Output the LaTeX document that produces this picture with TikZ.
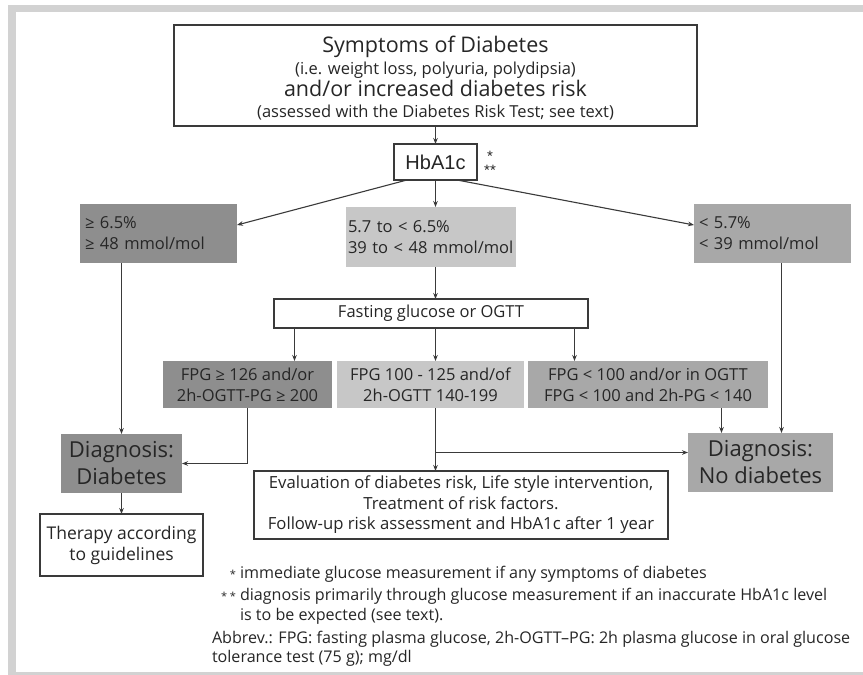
\documentclass[tikz,border=0pt]{standalone}
\usepackage{fontspec}
\setmainfont{Open Sans}
\newfontfamily\arialf{Liberation Sans}
\usetikzlibrary{arrows.meta,calc}
\definecolor{framegray}{HTML}{D2D2D2}
\definecolor{dk}{HTML}{8E8E8E}
\definecolor{md}{HTML}{A8A8A8}
\definecolor{lt}{HTML}{C7C7C7}
\definecolor{ink}{HTML}{262626}
\definecolor{edge}{HTML}{3A3A3A}
\begin{document}
\begin{tikzpicture}[x=1pt,y=-1pt,
  every node/.style={text=ink, inner sep=0pt, outer sep=0pt},
  plainbox/.style={draw=edge, line width=1.1pt, fill=white},
  shade/.style={fill=#1},
  conn/.style={draw=edge, line width=1.1pt, -{Stealth[length=6pt,width=4.6pt]}},
  big/.style={font=\fontsize{21.5}{24}\selectfont},
  mid/.style={font=\fontsize{16.5}{21}\selectfont},
  note/.style={font=\fontsize{16.1}{18}\selectfont, anchor=base west},
  starnote/.style={font=\fontsize{11}{12}\selectfont, anchor=base east},
]
\useasboundingbox (0,0) rectangle (863,675);
\fill[white] (0,0) rectangle (863,675);
\fill[framegray] (8,5) rectangle (863,675);
\fill[white] (16,12) rectangle (863,672);

% top box
\node[plainbox, minimum width=523, minimum height=101] (top) at (435.5,75.5) {};
\node[big, anchor=base] (top1) at (435.5,52) {Symptoms of Diabetes};
\node[mid, anchor=base] (top2) at (435.5,74.5) {(i.e. weight loss, polyuria, polydipsia)};
\node[big, anchor=base] (top3) at (435.5,96) {and/or increased diabetes risk};
\node[mid, anchor=base] (top4) at (435.5,117) {(assessed with the Diabetes Risk Test; see text)};

% HbA1c
\node[plainbox, minimum width=83, minimum height=36, font=\arialf\fontsize{20}{24}\selectfont] (hba) at (435.5,162) {HbA1c};
\node[anchor=base, font=\arialf\fontsize{15}{15}\selectfont] (st1) at (490,161.5) {*};
\node[anchor=base, font=\arialf\fontsize{15}{15}\selectfont] (st2) at (490,175.5) {**};

% HbA1c result boxes
\node[shade=dk, mid, text width=147, inner xsep=5, minimum height=59, align=left] (L1) at (158.5,233.5) {≥ 6.5\%\\≥ 48 mmol/mol};
\node[shade=lt, mid, text width=166, inner xsep=2, minimum height=60, align=left] (M1) at (431,237) {5.7 to < 6.5\%\\\mbox{39 to < 48 mmol/mol}};
\node[shade=md, mid, text width=147, inner xsep=5, minimum height=59, align=left] (R1) at (772.5,233.5) {< 5.7\%\\< 39 mmol/mol};

% fasting glucose
\node[plainbox, mid, minimum width=314, minimum height=29] (fast) at (431,313.5) {Fasting glucose or OGTT};

% FPG boxes
\node[shade=dk, mid, minimum width=169, minimum height=47, align=center] (F1) at (247.5,384.5) {FPG ≥ 126 and/or\\2h-OGTT-PG ≥ 200};
\node[shade=lt, mid, minimum width=187, minimum height=47, align=center] (F2) at (430.5,384.5) {FPG 100 - 125 and/of\\2h-OGTT 140-199};
\node[shade=md, mid, minimum width=240, minimum height=47, align=center] (F3) at (648,384.5) {FPG < 100 and/or in OGTT\\FPG < 100 and 2h-PG < 140};

% diagnoses
\node[shade=dk, minimum width=121, minimum height=59, align=center, font=\fontsize{22}{27}\selectfont] (D1) at (121.5,463.5) {Diagnosis:\\Diabetes};
\node[shade=md, minimum width=145, minimum height=59, align=center, font=\fontsize{22}{27}\selectfont] (D2) at (760.5,462.5) {Diagnosis:\\No diabetes};

% evaluation and therapy
\node[plainbox, minimum width=414, minimum height=68, align=center, font=\fontsize{16.7}{20.5}\selectfont] (eval) at (461,505) {Evaluation of diabetes risk, Life style intervention,\\Treatment of risk factors.\\Follow-up risk assessment and HbA1c after 1 year};
\node[plainbox, minimum width=163, minimum height=62, align=center, font=\fontsize{17.5}{21}\selectfont] (ther) at (121.5,545) {Therapy according\\to guidelines};

% footnotes
\node[note] (fn1) at (240,578) {immediate glucose measurement if any symptoms of diabetes};
\node[starnote] (fn1s) at (236,578) {*};
\node[note] (fn2) at (240,600) {diagnosis primarily through glucose measurement if an inaccurate HbA1c level};
\node[starnote] (fn2s) at (236,600) {* *};
\node[note] (fn3) at (240,620) {is to be expected (see text).};
\node[note] (fn4) at (212,643) {Abbrev.: FPG: fasting plasma glucose, 2h-OGTT–PG: 2h plasma glucose in oral glucose};
\node[note] (fn5) at (212,662) {tolerance test (75 g); mg/dl};

% coordinates
\coordinate (hl) at ($(hba.south west)+(13,0)$);
\coordinate (hr) at ($(hba.south east)+(-20,0)$);
\coordinate (r1d) at ($(R1.south)+(9,0)$);
\coordinate (fa) at ($(fast.south west)+(20.5,0)$);
\coordinate (fc) at ($(fast.south east)+(-13.5,0)$);
\coordinate (br) at ($(hba.south |- F2.south)+(0,44.5)$);
\coordinate (f3d) at ($(F3.south)+(73.5,0)$);

% connectors
\draw[conn] (top.south) -- (hba.north);
\draw[conn] (hl) -- ($(L1.north east)+(0,21)$);
\draw[conn] (hba.south) -- (hba.south |- M1.north);
\draw[conn] (hr) -- ($(R1.north west)+(0,21)$);
\draw[conn] (D1.north |- L1.south) -- (D1.north);
\draw[conn] (r1d) -- (r1d |- D2.north);
\draw[conn] (hba.south |- M1.south) -- (hba.south |- fast.north);
\draw[conn] (fa) -- (fa |- F1.north);
\draw[conn] (hba.south |- fast.south) -- (hba.south |- F2.north);
\draw[conn] (fc) -- (fc |- F3.north);
\draw[conn] (F1.south) |- (D1.east);
\draw[conn] (hba.south |- F2.south) -- (hba.south |- eval.north);
\draw[conn] (br) -- (br -| D2.west);
\draw[conn] (f3d) -- (f3d |- D2.north);
\draw[conn] (D1.south) -- (ther.north);
\end{tikzpicture}
\end{document}
